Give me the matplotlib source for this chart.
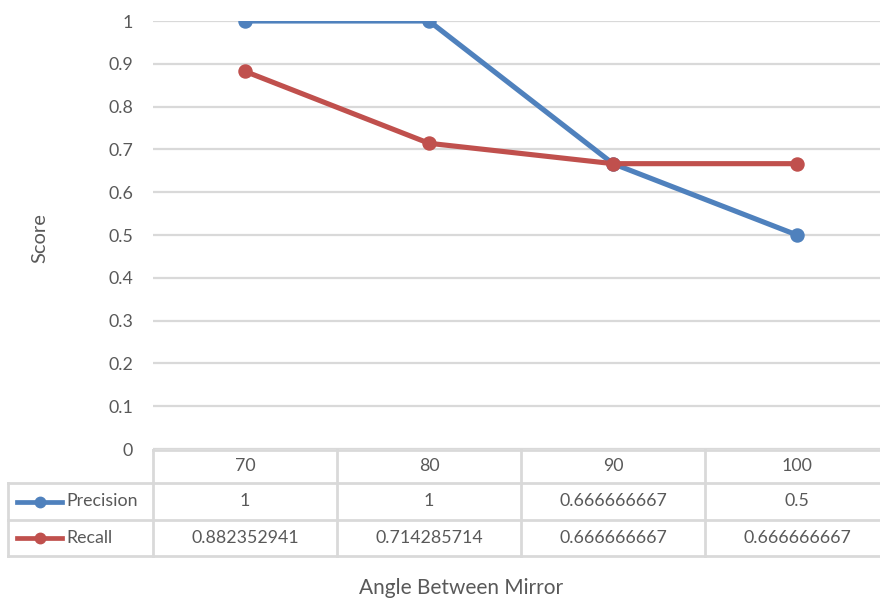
import matplotlib
matplotlib.use("Agg")
import matplotlib.pyplot as plt
from matplotlib.transforms import blended_transform_factory
from matplotlib.lines import Line2D

# Data
angles = ["70", "80", "90", "100"]
precision = [1.0, 1.0, 0.666666667, 0.5]
recall = [0.882352941, 0.714285714, 0.666666667, 0.666666667]
precision_labels = ["1", "1", "0.666666667", "0.5"]
recall_labels = ["0.882352941", "0.714285714", "0.666666667", "0.666666667"]
y_ticks = [0, 0.1, 0.2, 0.3, 0.4, 0.5, 0.6, 0.7, 0.8, 0.9, 1]
y_tick_labels = ["0", "0.1", "0.2", "0.3", "0.4", "0.5", "0.6", "0.7", "0.8", "0.9", "1"]

BLUE = "#4f81bd"
RED = "#c0504d"
GRID = "#d9d9d9"
TEXT = "#595959"

plt.rcParams["font.family"] = ["Lato", "DejaVu Sans"]

W, H = 880, 598
fig = plt.figure(figsize=(W / 100, H / 100), dpi=100)

# Plot area in pixels: x 153..889, y 21..449
left, right, top, bottom = 153, 889, 21, 449
ax = fig.add_axes([left / W, (H - bottom) / H, (right - left) / W, (bottom - top) / H])

x = list(range(len(angles)))
ax.set_xlim(-0.5, len(angles) - 0.5)
ax.set_ylim(0, 1)

for yv in y_ticks:
    ax.axhline(yv, color=GRID, lw=1.6, zorder=1)

LW, MS = 3.7, 9.4
ax.plot(x, precision, color=BLUE, lw=LW, marker="o", ms=MS, zorder=3,
        solid_capstyle="round", solid_joinstyle="round")
ax.plot(x, recall, color=RED, lw=LW, marker="o", ms=MS, zorder=3,
        solid_capstyle="round", solid_joinstyle="round")

ax.set_yticks(y_ticks)
ax.set_yticklabels(y_tick_labels)
ax.set_xticks([])
ax.tick_params(axis="y", length=0, pad=14.4, labelsize=12.8, labelcolor=TEXT)
for s in ax.spines.values():
    s.set_visible(False)

# Data table under the plot
tr = blended_transform_factory(ax.transData, ax.transAxes)
ph = bottom - top
def yfrac(py):
    return (bottom - py) / ph

row_edges = [449.5, 483, 520, 556]
col_edges = [-0.5 + i for i in range(len(angles) + 1)]
colw = (right - left) / len(angles)
def px2x(px):
    return (px - left) / colw - 0.5

x_left_col = px2x(8)
lkw = dict(color=GRID, lw=2.0, transform=tr, clip_on=False, zorder=1)

# horizontal rules
ax.add_line(Line2D([col_edges[0], col_edges[-1]], [yfrac(row_edges[0])] * 2, **lkw))
for py in row_edges[1:]:
    ax.add_line(Line2D([x_left_col, col_edges[-1]], [yfrac(py)] * 2, **lkw))
# vertical rules
ax.add_line(Line2D([x_left_col] * 2, [yfrac(row_edges[1]), yfrac(row_edges[-1])], **lkw))
for cx in col_edges:
    ax.add_line(Line2D([cx] * 2, [yfrac(row_edges[0]), yfrac(row_edges[-1])], **lkw))

tkw = dict(transform=tr, ha="center", va="center", fontsize=12.8, color=TEXT, clip_on=False)
row_centers = [(row_edges[i] + row_edges[i + 1]) / 2 for i in range(3)]
for i, a in enumerate(angles):
    ax.text(i, yfrac(row_centers[0]), a, **tkw)
    ax.text(i, yfrac(row_centers[1]), precision_labels[i], **tkw)
    ax.text(i, yfrac(row_centers[2]), recall_labels[i], **tkw)

for name, color, py in [("Precision", BLUE, row_centers[1]), ("Recall", RED, row_centers[2])]:
    yy = yfrac(py)
    ax.add_line(Line2D([px2x(17), px2x(62)], [yy, yy], color=color, lw=3.4,
                       transform=tr, clip_on=False))
    ax.add_line(Line2D([px2x(40)], [yy], color=color, marker="o", ms=7.5, lw=0,
                       transform=tr, clip_on=False))
    ax.text(px2x(66), yy, name, transform=tr, ha="left", va="center",
            fontsize=12.8, color=TEXT, clip_on=False)

# Axis titles
fig.text(40 / W, 1 - 238 / H, "Score", rotation=90, ha="center", va="center",
         fontsize=14.5, color=TEXT)
fig.text(461 / W, 1 - 588 / H, "Angle Between Mirror", ha="center", va="center",
         fontsize=15, color=TEXT)

fig.savefig("out.png", dpi=100)
